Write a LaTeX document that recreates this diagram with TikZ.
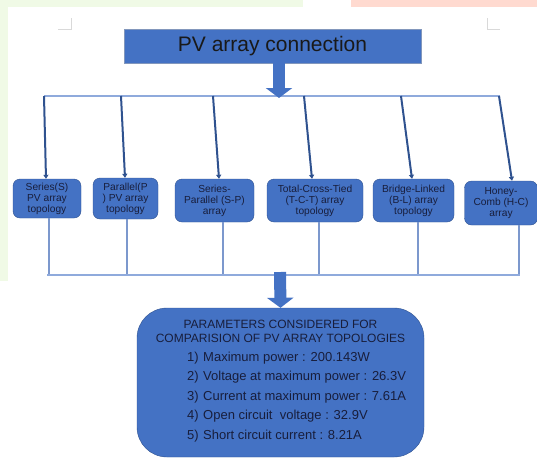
\documentclass[tikz,border=0pt]{standalone}
\usepackage{fontspec}
\setmainfont{Liberation Sans}
\usetikzlibrary{positioning,arrows.meta,calc}
\definecolor{myblue}{RGB}{68,114,196}
\definecolor{darkblue}{RGB}{47,82,143}
\definecolor{lightblue}{RGB}{143,170,220}
\definecolor{textblue}{RGB}{24,30,60}
\definecolor{mygreen}{RGB}{240,250,230}
\definecolor{mypink}{RGB}{255,218,208}

\begin{document}
\begin{tikzpicture}[x=1pt,y=-1pt,
		  every node/.style={font=\fontsize{10.2}{11}\selectfont},
		  titlebox/.style={draw=darkblue!60,fill=myblue,minimum width=297pt,minimum height=34pt,
		    font=\fontsize{21}{24}\selectfont,text=black!90},
		  topobox/.style={draw=darkblue,fill=myblue,rounded corners=7pt,align=center,text=textblue,inner sep=1pt},
		  parambox/.style={draw=darkblue,fill=myblue,rounded corners=30pt,minimum width=287pt,minimum height=149pt},
		  paramtext/.style={font=\fontsize{12}{14}\selectfont,text=textblue},
		  bus/.style={lightblue,line width=1.5pt},
		  feed/.style={darkblue,line width=2pt,-{Triangle[length=4pt,width=5pt]}},
		  drop/.style={lightblue!80!darkblue,line width=1.2pt},
		  blockarrow/.style={myblue,line width=12pt,-{Triangle[length=10pt,width=26pt]}},
		  cropmark/.style={black!15,line width=1pt}
		]

			\useasboundingbox (0,0) rectangle (537,459);

			% page background
			\fill[mygreen] (0,0) rectangle (303,7);
			\fill[mygreen] (0,0) rectangle (8,281);
			\fill[mypink] (351,0) rectangle (537,7);
			\draw[cropmark] (58,29) -- (71,29) -- (71,18);
			\draw[cropmark] (487,18) -- (487,29) -- (500,29);

			% the title
			\node[titlebox] (title) at (272.5,46) {PV array connection};

			% the upper bus
			\coordinate (busL) at (44,96);
			\coordinate (busR) at (500,96);
			\draw[bus] (busL) -- (busR);
			\coordinate (hit) at (279,98);
			\draw[blockarrow] (hit |- title.south) -- (hit);

			% the topologies
			\foreach \i/\x/\y/\w/\h/\t in {
			  1/47/198.5/68/39/{Series(S)\\PV array\\topology},
			  2/125.5/198.5/65/41/{Parallel(P\\) PV array\\topology},
			  3/214.5/200.5/79/43/{Series-\\Parallel (S-P)\\array},
			  4/315/200.5/96/43/{Total-Cross-Tied\\(T-C-T) array\\topology},
			  5/413.5/200.5/81/43/{Bridge-Linked\\(B-L) array\\topology},
			  6/501/203/73/44/{Honey-\\Comb (H-C)\\array}}
			  \node[topobox,minimum width=\w pt,minimum height=\h pt] (b\i) at (\x,\y) {\t};

			% the feeds from the upper bus
			\foreach \i/\xt/\xb in {1/44/46,2/121/125,3/213/219,4/304/312,5/401/412,6/499/512}
			{
			  \coordinate (f\i) at (\xt,96);
			  \coordinate (g\i) at (\xb,0);
			  \draw[feed] (f\i) -- (g\i |- b\i.north);
			}

			% the lower bus
			\foreach \i/\x in {1/49,2/127,3/223,4/319,5/418,6/519}
			{
			  \coordinate (d\i) at (\x,275);
			  \draw[drop] (d\i |- b\i.south) -- (d\i);
			}
			\coordinate (lowL) at (47,275);
			\coordinate (lowR) at (520,275);
			\draw[bus] (lowL) -- (lowR);

			% the parameters
			\node[parambox] (params) at (280.5,382.5) {};
			\coordinate (drop) at (280,272);
			\draw[blockarrow] (drop) -- (params.north);
			\node[paramtext,align=center] (hdr) at (280.5,331)
			  {PARAMETERS CONSIDERED FOR\\COMPARISION OF PV ARRAY TOPOLOGIES};
			\foreach \i/\t in {1/{Maximum power : 200.143W},
			  2/{Voltage at maximum power : 26.3V},
			  3/{Current at maximum power : 7.61A},
			  4/{Open circuit \ voltage : 32.9V},
			  5/{Short circuit current : 8.21A}}
			  \node[paramtext,font=\fontsize{13}{15}\selectfont,anchor=west,inner sep=0pt] (p\i)
			    at (187,{358+19.5*(\i-1)}) {\makebox[16pt][l]{\i)}\t};

		\end{tikzpicture}
\end{document}
